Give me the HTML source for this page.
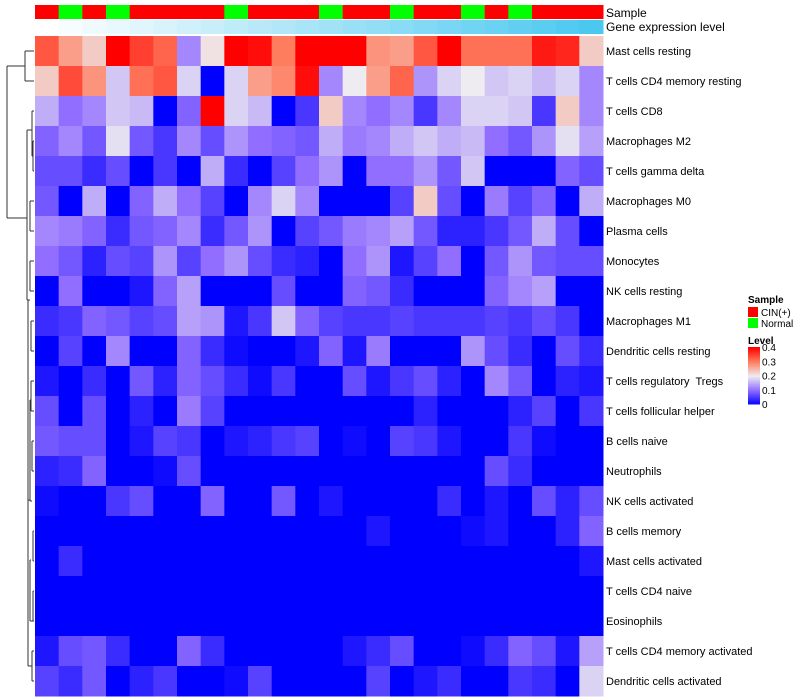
<!DOCTYPE html>
<html><head><meta charset="utf-8">
<style>
html,body{margin:0;padding:0;background:#fff;}
svg{display:block;font-family:"Liberation Sans",sans-serif;}
text{white-space:pre;}
</style></head>
<body>
<svg id="chart" width="800" height="700"></svg>
<script>
const rowNames=["Mast cells resting","T cells CD4 memory resting","T cells CD8","Macrophages M2","T cells gamma delta","Macrophages M0","Plasma cells","Monocytes","NK cells resting","Macrophages M1","Dendritic cells resting","T cells regulatory  Tregs","T cells follicular helper","B cells naive","Neutrophils","NK cells activated","B cells memory","Mast cells activated","T cells CD4 naive","Eosinophils","T cells CD4 memory activated","Dendritic cells activated"];
const sampleGroups=["CIN","N","CIN","N","CIN","CIN","CIN","CIN","N","CIN","CIN","CIN","N","CIN","CIN","N","CIN","CIN","N","CIN","N","CIN","CIN","CIN"];
const legendTicks=[0.4,0.3,0.2,0.1,0];
const r01=[0.33,0.27,0.23,0.4,0.35,0.32,0.12,0.21,0.4,0.39,0.3,0.4,0.4,0.4,0.28,0.27,0.33,0.4,0.31,0.31,0.31,0.38,0.37,0.23];
const r02=[0.23,0.34,0.28,0.17,0.31,0.33,0.18,0,0.18,0.27,0.29,0.39,0.12,0.2,0.27,0.32,0.13,0.18,0.2,0.17,0.18,0.16,0.18,0.12];
const r03=[0.15,0.1,0.12,0.17,0.16,0,0.09,0.4,0.18,0.16,0,0.05,0.23,0.12,0.1,0.12,0.05,0.12,0.18,0.18,0.17,0.05,0.23,0.12];
const r04=[0.09,0.12,0.08,0.19,0.08,0.05,0.12,0.07,0.13,0.1,0.09,0.08,0.15,0.11,0.12,0.15,0.17,0.15,0.16,0.1,0.08,0.13,0.19,0.14];
const r05=[0.07,0.07,0.04,0.07,0,0.05,0,0.15,0.04,0,0.06,0.1,0.13,0,0.1,0.1,0.13,0.08,0.17,0,0,0,0.09,0.07];
const r06=[0.08,0,0.15,0,0.09,0.15,0.1,0.06,0,0.12,0.18,0.12,0,0,0,0.06,0.23,0.07,0,0.11,0.06,0.09,0,0.15];
const r07=[0.12,0.11,0.09,0.04,0.08,0.09,0.12,0.04,0.08,0.13,0,0.06,0.08,0.11,0.12,0.14,0.08,0.03,0.03,0.05,0.08,0.15,0.07,0];
const r08=[0.1,0.08,0.03,0.07,0.06,0.13,0.06,0.1,0.13,0.07,0.04,0.03,0,0.1,0.13,0.02,0.06,0.1,0,0.08,0.13,0.08,0.07,0.07];
const r09=[0,0.1,0,0,0.02,0.09,0.14,0,0,0,0.07,0,0,0.09,0.08,0.04,0,0,0,0.09,0.12,0.14,0,0];
const r10=[0.04,0.05,0.09,0.08,0.06,0.07,0.14,0.13,0.02,0.05,0.17,0.09,0.06,0.05,0.05,0.06,0.05,0.05,0.05,0.06,0.05,0.07,0.05,0];
const r11=[0,0.06,0,0.12,0,0,0.09,0.04,0.01,0,0,0.02,0.09,0.02,0.11,0,0,0,0.13,0.07,0.04,0,0.07,0.04];
const r12=[0.02,0,0.04,0,0.08,0.03,0.09,0.07,0.04,0.01,0.05,0,0,0.07,0.02,0.05,0.07,0.03,0,0.12,0.08,0,0.03,0.02];
const r13=[0.07,0,0.07,0,0.03,0,0.11,0.06,0,0,0,0,0,0,0,0,0.03,0,0,0,0.03,0.06,0,0.05];
const r14=[0.08,0.07,0.07,0,0.02,0.06,0.05,0,0.02,0.03,0.05,0.06,0,0.01,0,0.06,0.05,0.02,0,0,0.05,0.01,0,0];
const r15=[0.03,0.04,0.09,0,0,0.01,0.07,0,0,0,0,0,0,0,0,0,0,0,0,0.07,0.04,0,0,0];
const r16=[0.01,0,0,0.05,0.07,0,0,0.09,0,0,0.08,0,0.02,0,0,0,0,0.04,0,0.02,0,0.07,0.03,0.07];
const r17=[0,0,0,0,0,0,0,0,0,0,0,0,0,0,0.02,0,0,0,0.01,0.02,0,0,0.03,0.09];
const r18=[0,0.04,0,0,0,0,0,0,0,0,0,0,0,0,0,0,0,0,0,0,0,0,0,0.02];
const r19=[0,0,0,0,0,0,0,0,0,0,0,0,0,0,0,0,0,0,0,0,0,0,0,0];
const r20=[0,0,0,0,0,0,0,0,0,0,0,0,0,0,0,0,0,0,0,0,0,0,0,0];
const r21=[0.02,0.07,0.08,0.04,0,0,0.09,0.04,0,0,0,0,0,0.02,0.04,0.07,0,0,0.01,0.04,0.09,0.07,0.02,0.14];
const r22=[0.06,0.04,0.08,0,0.03,0.05,0,0,0.01,0.06,0,0,0,0,0.06,0,0.02,0.04,0,0,0.05,0.04,0,0.18];
const values=[r01,r02,r03,r04,r05,r06,r07,r08,r09,r10,r11,r12,r13,r14,r15,r16,r17,r18,r19,r20,r21,r22];

const NS="http://www.w3.org/2000/svg";
const svg=document.getElementById('chart');
function mk(tag,attrs,parent){const e=document.createElementNS(NS,tag);for(const k in attrs)e.setAttribute(k,attrs[k]);(parent||svg).appendChild(e);return e;}
const X0=35,X1=603,Y0=36,RH=30;
const nCol=sampleGroups.length, nRow=values.length;
const CW=(X1-X0)/nCol;
const xPos=i=>X0+i*CW;
const yPos=j=>Y0+j*RH;
function lerp(a,b,t){return [0,1,2].map(k=>Math.round(a[k]+(b[k]-a[k])*t));}
const stops=[[0,[0,0,255]],[0.1,[145,110,255]],[0.2,[238,236,240]],[0.3,[255,125,95]],[0.4,[255,0,0]]];
function color(v){v=Math.max(0,Math.min(0.4,v));for(let i=0;i<stops.length-1;i++){if(v<=stops[i+1][0]){const t=(v-stops[i][0])/(stops[i+1][0]-stops[i][0]);const c=lerp(stops[i][1],stops[i+1][1],t);return `rgb(${c[0]},${c[1]},${c[2]})`;}}return 'rgb(255,0,0)';}

for(let i=0;i<nCol;i++){
  const r=mk('rect',{x:xPos(i),y:5,width:CW+0.5,height:14,fill:sampleGroups[i]==="CIN"?"#ff0000":"#00ff00"});
  
  
  const t=i/(nCol-1);
  const c=lerp([255,255,255],[75,200,240],t);
  const g=mk('rect',{x:xPos(i),y:20,width:CW+0.5,height:14,fill:`rgb(${c[0]},${c[1]},${c[2]})`});
  
  
}
let t1=mk('text',{x:606,y:17,'font-size':12,fill:'#000'});t1.textContent="Sample";


let t2=mk('text',{x:606,y:31,'font-size':12,fill:'#000'});t2.textContent="Gene expression level";



for(let j=0;j<nRow;j++){
  for(let i=0;i<nCol;i++){
    const r=mk('rect',{x:xPos(i),y:yPos(j),width:CW+0.5,height:RH+0.5,fill:color(values[j][i])});
    
    
  }
  const t=mk('text',{x:606,y:yPos(j)+RH/2+4,'font-size':11,fill:'#000'});
  t.textContent=rowNames[j];
  
  
}

const dg=mk('g',{stroke:'#333','stroke-width':1,fill:'none'});


const cy=j=>yPos(j)+RH/2;
function seg(x1,y1,x2,y2){mk('line',{x1,y1,x2,y2},dg);}
function join(x,ya,xa,yb,xb){seg(x,ya,x,yb);seg(x,ya,xa,ya);seg(x,yb,xb,yb);}
join(25,cy(0),34,cy(1),34);
join(7,(cy(0)+cy(1))/2,25,218,27);
join(27,130,32,300,28);
join(32,cy(2),34,cy(4)-15,33);
join(33,cy(3),34,cy(4),34);
join(28,300,30,500,30);
join(30,cy(5),34,cy(6),34);
join(30,cy(7),34,cy(8),34);
join(31,cy(9),34,cy(10),34);
join(31,cy(11),34,cy(12),34);
join(30,400,31,cy(15),32);
join(32,cy(13),34,cy(14),34);
join(30,560,31,cy(19),33);
join(33,cy(16),34,cy(17),34);
join(33,cy(18),34,cy(19),34);
join(28,500,30,cy(20)+15,32);
join(32,cy(20),34,cy(21),34);

let lg=mk('g',{});


let ls=mk('text',{x:748,y:303,'font-size':10,'font-weight':'bold'},lg);ls.textContent="Sample";


[["CIN(+)","#ff0000",307],["Normal","#00ff00",318]].forEach(d=>{
  const r=mk('rect',{x:748,y:d[2],width:10,height:10,fill:d[1]},lg);
  
  
  const t=mk('text',{x:761,y:d[2]+9,'font-size':10},lg);t.textContent=d[0];
  
  
});
let lt=mk('text',{x:748,y:344,'font-size':10,'font-weight':'bold'},lg);lt.textContent="Level";


const cb0=347,cb1=404;
for(let k=0;k<40;k++){
  const v=0.4-k*0.01;
  const r=mk('rect',{x:748,y:cb0+k*(cb1-cb0)/40,width:12,height:(cb1-cb0)/40+0.5,fill:color(v)},lg);
  
  
}
legendTicks.forEach(v=>{
  const y=cb0+(0.4-v)/0.4*(cb1-cb0);
  const t=mk('text',{x:762,y:y+4,'font-size':10},lg);t.textContent=String(v);
  
  
});
</script>
</body></html>
